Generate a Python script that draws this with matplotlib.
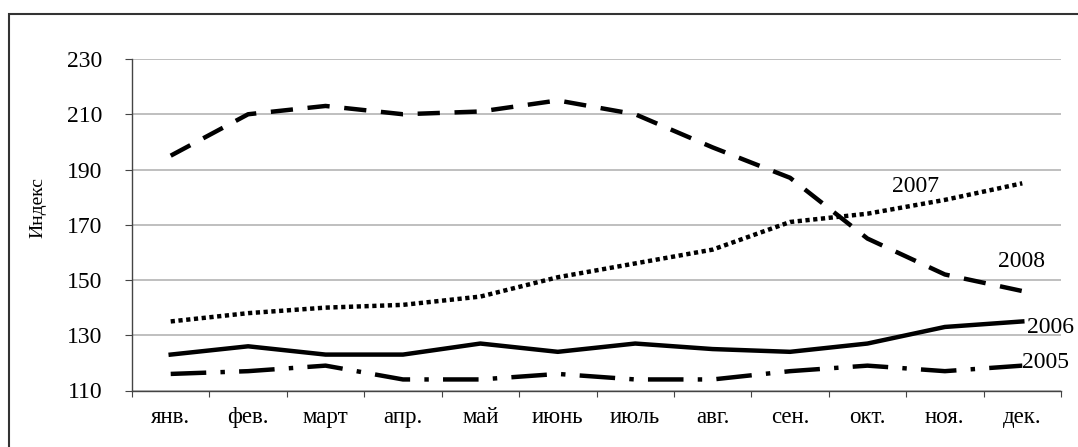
import matplotlib
matplotlib.use("Agg")
import matplotlib.pyplot as plt
from matplotlib.patches import Rectangle

plt.rcParams['font.family'] = ['Liberation Serif', 'DejaVu Serif']

months = ['янв.', 'фев.', 'март', 'апр.', 'май', 'июнь', 'июль',
          'авг.', 'сен.', 'окт.', 'ноя.', 'дек.']
y2005 = [116, 117, 119, 114, 114, 116, 114, 114, 117, 119, 117, 119]
y2006 = [123, 126, 123, 123, 127, 124, 127, 125, 124, 127, 133, 135]
y2007 = [135, 138, 140, 141, 144, 151, 156, 161, 171, 174, 179, 185]
y2008 = [195, 210, 213, 210, 211, 215, 210, 198, 187, 165, 152, 146]
yticks = [110, 130, 150, 170, 190, 210, 230]

W, H = 1078, 447
fig = plt.figure(figsize=(W / 100, H / 100), dpi=100)
# axes box in pixels: left 132, right 1061, top 59, bottom 390.5
ax = fig.add_axes([132 / W, 1 - 390.5 / H, (1061 - 132) / W, (390.5 - 59) / H])

x = range(len(months))
lw = 3.2
ax.plot(x, y2008, color='black', lw=lw, linestyle=(0, (5, 3.3)), dash_capstyle='butt')
ax.plot(x, y2007, color='black', lw=lw, linestyle=(0, (0.95, 0.8)), dash_capstyle='butt')
ax.plot(x, y2006, color='black', lw=lw, solid_joinstyle='round')
ax.plot(x, y2005, color='black', lw=lw, linestyle=(0, (8, 3.2, 1, 3.2)), dash_capstyle='butt')

ax.set_xlim(-0.5, 11.5)
ax.set_ylim(110, 230)
ax.set_yticks(yticks)
ax.set_yticklabels([str(v) for v in yticks], fontsize=17)
# ticks between categories, labels at the centres
ax.set_xticks([i + 0.5 for i in range(-1, 12)])
ax.set_xticklabels([])
ax.set_xticks(list(x), minor=True)
ax.set_xticklabels(months, minor=True, fontsize=16.5)
ax.tick_params(axis='x', which='minor', length=0, pad=12)
ax.tick_params(axis='x', which='major', length=4, color='#444444', direction='out')
ax.tick_params(axis='y', length=5, color='#444444', pad=16.5)
ax.grid(axis='y', color='#b4b4b4', lw=1.2)
ax.set_axisbelow(True)
for s in ['top', 'right']:
    ax.spines[s].set_visible(False)
for s in ['left', 'bottom']:
    ax.spines[s].set_color('#444444')
    ax.spines[s].set_linewidth(1)

fig.text(38 / W, 1 - 207 / H, 'Индекс', fontsize=14, rotation=90,
         ha='center', va='center')

# year labels
ax.text(9.62, 181.9, '2007', fontsize=17, ha='center', va='baseline')
ax.text(10.99, 154.7, '2008', fontsize=17, ha='center', va='baseline')
ax.text(11.06, 130.8, '2006', fontsize=17, ha='left', va='baseline', clip_on=False)
ax.text(11.0, 118.1, '2005', fontsize=17, ha='left', va='baseline', clip_on=False)

# outer frame (only left and top edges fall inside the picture)
fig.patches.append(Rectangle((9 / W, -0.1), 1.2, 1.1 - 14 / H,
                             transform=fig.transFigure, fill=False,
                             edgecolor='#333333', lw=1.5))

fig.savefig('out.png', dpi=100)
